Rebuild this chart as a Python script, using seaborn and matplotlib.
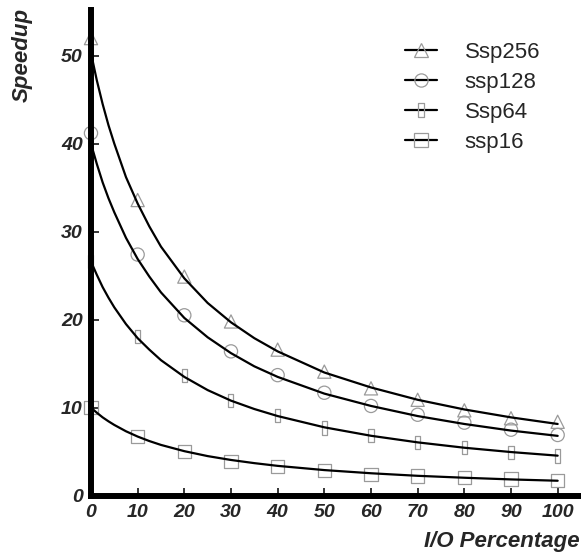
import matplotlib
matplotlib.use("Agg")
import matplotlib.pyplot as plt
from matplotlib.lines import Line2D
import numpy as np
import pandas as pd
import seaborn as sns

# marker values
io_pct = [0, 10, 20, 30, 40, 50, 60, 70, 80, 90, 100]
ssp256 = [52.0, 33.6, 24.9, 19.8, 16.6, 14.1, 12.2, 10.9, 9.7, 8.8, 8.4]
ssp128 = [41.2, 27.4, 20.5, 16.4, 13.7, 11.7, 10.2, 9.2, 8.3, 7.5, 6.9]
ssp64 = [26.6, 18.1, 13.7, 10.8, 9.1, 7.7, 6.8, 6.0, 5.45, 4.9, 4.5]
ssp16 = [10.0, 6.7, 5.0, 3.9, 3.3, 2.84, 2.45, 2.24, 2.05, 1.9, 1.7]

# curve values
curve_x = [0, 1.25, 2.5, 3.75, 5, 7.5, 10, 12.5, 15, 20, 25, 30, 35, 40, 50, 60, 70, 80, 90, 100]
curve256 = [50.3, 47.2, 44.5, 42.1, 40.0, 36.2, 33.2, 30.6, 28.3, 24.7, 21.9, 19.7, 17.9, 16.4,
            14.0, 12.3, 10.9, 9.8, 8.9, 8.15]
curve128 = [40.0, 37.7, 35.6, 33.8, 32.2, 29.3, 26.9, 24.9, 23.1, 20.2, 18.0, 16.2, 14.7, 13.5,
            11.6, 10.2, 9.05, 8.15, 7.4, 6.8]
curve64 = [26.6, 25.1, 23.7, 22.5, 21.4, 19.5, 17.9, 16.6, 15.4, 13.5, 12.0, 10.8, 9.85, 9.05,
           7.77, 6.81, 6.06, 5.45, 4.96, 4.55]
curve16 = [10.0, 9.43, 8.9, 8.45, 8.04, 7.32, 6.72, 6.21, 5.77, 5.06, 4.5, 4.06, 3.7, 3.39,
           2.91, 2.55, 2.26, 2.04, 1.85, 1.7]

names = ["Ssp256", "ssp128", "Ssp64", "ssp16"]

sns.set_style("white")
plt.rcParams['font.family'] = ['Liberation Sans', 'DejaVu Sans']

rect = [(-0.19, -0.5), (0.19, -0.5), (0.19, 0.5), (-0.19, 0.5), (-0.19, -0.5)]
markers = ['^', 'o', rect, 's']
grey = '#9a9a9a'
ms = 9.5

fig = plt.figure(figsize=(5.81, 5.52), dpi=100)
ax = fig.add_axes([0.1566, 0.102, 0.8434, 0.88])

pts = [ssp256, ssp128, ssp64, ssp16]
curves = [curve256, curve128, curve64, curve16]
for name, p, c, m in zip(names, pts, curves, markers):
    dfc = pd.DataFrame({"x": curve_x, "y": c})
    sns.lineplot(data=dfc, x="x", y="y", ax=ax, color="black", lw=1.6, zorder=2)
    dfp = pd.DataFrame({"x": io_pct, "y": p})
    sns.scatterplot(data=dfp, x="x", y="y", ax=ax, marker=m, s=ms ** 2,
                    facecolor="none", edgecolor=grey, linewidth=0.9,
                    clip_on=False, zorder=1)

ax.set_xlim(0, 105)
ax.set_ylim(0, 55.2)
ax.set_xticks(range(0, 101, 10))
ax.set_yticks(range(0, 51, 10))
for s in ["top", "right"]:
    ax.spines[s].set_visible(False)
for s in ["left", "bottom"]:
    ax.spines[s].set_linewidth(4.3)
    ax.spines[s].set_color("black")
    ax.spines[s].set_zorder(3)
ax.tick_params(direction="in", length=5.5, width=1.3, pad=6, labelsize=14,
               left=True, bottom=True)
for lab in ax.get_xticklabels() + ax.get_yticklabels():
    lab.set_fontweight("bold")
    lab.set_fontstyle("italic")

ax.set_xlabel("")
ax.set_ylabel("")
fig.text(0.998, 0.0, "I/O Percentage", ha="right", va="bottom",
         fontsize=16, fontweight="bold", fontstyle="italic")
fig.text(0.038, 0.985, "Speedup", ha="center", va="top", rotation=90,
         fontsize=16, fontweight="bold", fontstyle="italic")

handles = [Line2D([], [], color="black", lw=1.6, marker=m, mfc="none",
                  mec=grey, mew=0.9, ms=ms) for m in markers]
ax.legend(handles, names, loc="upper left", bbox_to_anchor=(0.622, 0.952),
          frameon=False, fontsize=16, handlelength=1.45, handletextpad=1.25,
          labelspacing=0.4, numpoints=1, borderaxespad=0)

fig.savefig("out.png", dpi=100)
